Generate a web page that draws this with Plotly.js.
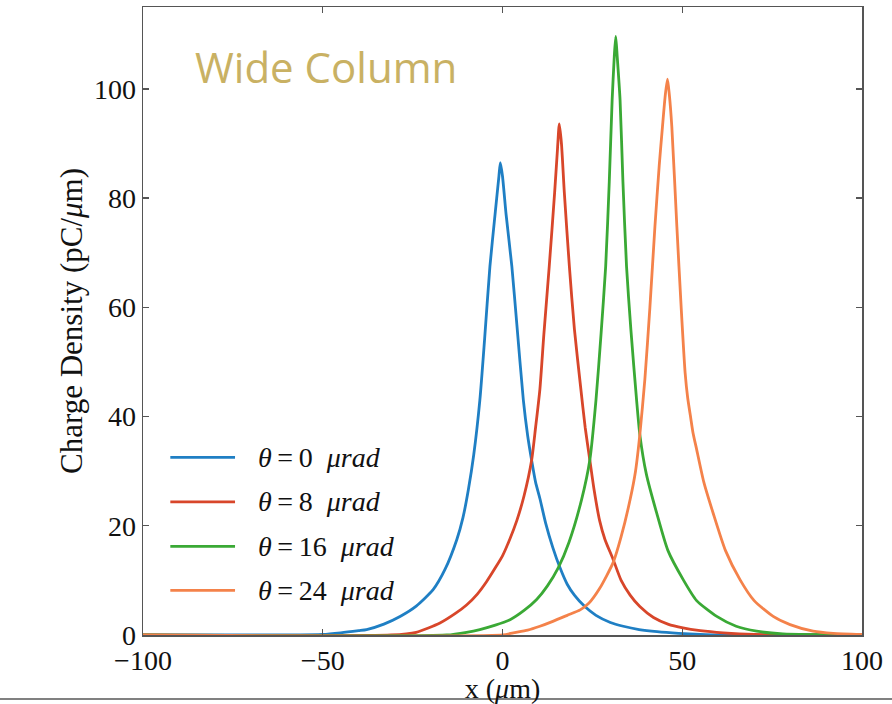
<!DOCTYPE html>
<html>
<head>
<meta charset="utf-8">
<script src="https://cdn.plot.ly/plotly-3.0.1.min.js"></script>
<style>html,body{margin:0;padding:0;background:#fff;}#chart{width:892px;height:704px;}</style>
</head>
<body>
<div id="chart"></div>
<script>
// Series labels and colours
const seriesNames = [
  "<i>θ</i>\u2009=\u20090\u00a0\u00a0<i>μrad</i>",
  "<i>θ</i>\u2009=\u20098\u00a0\u00a0<i>μrad</i>",
  "<i>θ</i>\u2009=\u200916\u00a0\u00a0<i>μrad</i>",
  "<i>θ</i>\u2009=\u200924\u00a0\u00a0<i>μrad</i>"
];
const seriesColors = ["#1f7fc4", "#d8462a", "#3aa935", "#f4824a"];

// θ = 0 µrad
const x0 = [-100,-60,-50,-45,-40,-37.8,-33,-28.5,-24,-19.3,-16,-12.7,-11,-9.5,-8,-6.3,-5,-3.5,-2,-1,-0.6,0,1,2.6,4,5.8,7,8.1,9.2,10.4,12,14,16,18,20,22.9,26,30,33.6,38,43,49,55,60,100];
const y0 = [0,0,0.1,0.4,0.8,1.0,2.0,3.4,5.3,8.3,12,17.5,21.5,26.6,33,43,54,67.5,77.5,84,86.5,84,77,67.5,56.8,43,36.5,32,28,25,20.5,16,12.3,9.3,7.3,5.2,3.6,2.3,1.6,1.0,0.6,0.3,0.1,0,0];

// θ = 8 µrad
const x8 = [-100,-31,-24,-17.4,-13,-10,-7,-4.4,-2,0,2,4,6,8.1,9.2,10.4,11.5,13,14.5,15.3,15.8,16.4,17.2,18.6,20,21.8,23,24.3,25.5,27,28.5,30.8,33,35.5,38.2,42,46,50.2,55,61.4,70,100];
const y8 = [0,0,0.5,2.2,4,5.5,7.5,9.8,12.3,14.5,17.5,21,25.5,32,38,45,55,67.5,81,89,93.6,90,81,67.5,56,45,38,32,26.5,21,17.5,13.8,10,7.3,5.2,3.2,2.0,1.3,0.8,0.4,0.1,0];

// θ = 16 µrad
const x16 = [-100,-15.5,-10,-6.3,-2,2.1,6,9.5,12.5,15.5,18.5,22,24.3,26,27.4,28.7,29.7,30.5,31.1,31.5,31.9,32.7,33.5,34.5,35.7,37.3,38.2,40,42.9,46,50.3,54,59.6,65,70.7,78,100];
const y16 = [0,0,0.5,1.0,1.8,2.8,4.5,6.5,9,12.3,17,24.8,32.1,43,55,67.5,83,98,106,109.6,106,98,83,67.5,56,43,36.7,29.5,22.3,15.5,10.1,6.3,3.4,1.6,0.7,0.2,0];

// θ = 24 µrad
const x24 = [-100,0,3,7,10.4,14,18,21.6,24,27,30.8,33,35.5,37,38.2,39.6,41,42.4,43.6,44.5,45.3,45.9,46.4,47.1,48.5,49.7,50.8,51.5,52.3,53,54,56,58.6,62,66.1,70,75.3,80,86.4,92,100];
const y24 = [0,0,0.4,0.9,1.6,2.5,3.6,4.6,5.8,8.5,13.3,18,24.8,30,36.7,46.8,60,74.8,86,93.1,99,101.8,99,93.1,74.8,60,48,43.5,40,37,34,28,22.3,15.5,10.1,6.3,3.4,1.9,0.7,0.3,0.1];

const xTicks = [-100, -50, 0, 50, 100];
const xTickText = ["−100", "−50", "0", "50", "100"];
const yTicks = [0, 20, 40, 60, 80, 100];

const xs = [x0, x8, x16, x24];
const ys = [y0, y8, y16, y24];

const serif = "Liberation Serif, Times New Roman, serif";

const traces = xs.map((x, i) => ({
  type: "scatter", mode: "lines", x: x, y: ys[i], name: seriesNames[i],
  line: {color: seriesColors[i], width: 2.8, shape: "spline", smoothing: 0.6}, showlegend: false
}));

// custom legend (long line samples like the reference)
const legY = [0.283, 0.212, 0.141, 0.071];
const shapes = [];
const annotations = [];
seriesNames.forEach((n, i) => {
  shapes.push({type: "line", xref: "paper", yref: "paper", x0: 0.038, x1: 0.128, y0: legY[i], y1: legY[i],
    line: {color: seriesColors[i], width: 2.8}});
  annotations.push({xref: "paper", yref: "paper", x: 0.157, y: legY[i], xanchor: "left", yanchor: "middle",
    text: n, showarrow: false, font: {family: serif, size: 28, color: "#111"}});
});
// bottom separator line of the slide
shapes.push({type: "line", xref: "paper", yref: "paper", x0: -0.2, x1: 1.05, y0: -0.102, y1: -0.102,
  line: {color: "#808080", width: 2}});

annotations.push({xref: "paper", yref: "paper", x: 0.2545, y: 0.905, xanchor: "center", yanchor: "middle",
  text: "Wide Column", showarrow: false, font: {family: "Open Sans, sans-serif", size: 42, color: "#c9b163"}});

const axisCommon = {
  showline: true, mirror: "ticks", linecolor: "#555", linewidth: 1.5,
  ticks: "inside", ticklen: 6, tickwidth: 1.3, tickcolor: "#555",
  showgrid: false, zeroline: false,
  tickfont: {family: serif, size: 28, color: "#111"}
};

const layout = {
  width: 892, height: 704,
  margin: {l: 143, r: 30, t: 7, b: 69},
  paper_bgcolor: "#fff", plot_bgcolor: "#fff",
  xaxis: Object.assign({}, axisCommon, {
    range: [-100, 100], tickvals: xTicks, ticktext: xTickText,
    title: {text: "x (<i>μ</i>m)", font: {family: serif, size: 28, color: "#111"}, standoff: 1}
  }),
  yaxis: Object.assign({}, axisCommon, {
    range: [0, 115], tickvals: yTicks,
    title: {text: "Charge Density (pC/<i>μ</i>m)", font: {family: serif, size: 31, color: "#111"}, standoff: 2}
  }),
  shapes: shapes,
  annotations: annotations,
  showlegend: false
};

Plotly.newPlot("chart", traces, layout, {displayModeBar: false, staticPlot: true});
</script>
</body>
</html>
